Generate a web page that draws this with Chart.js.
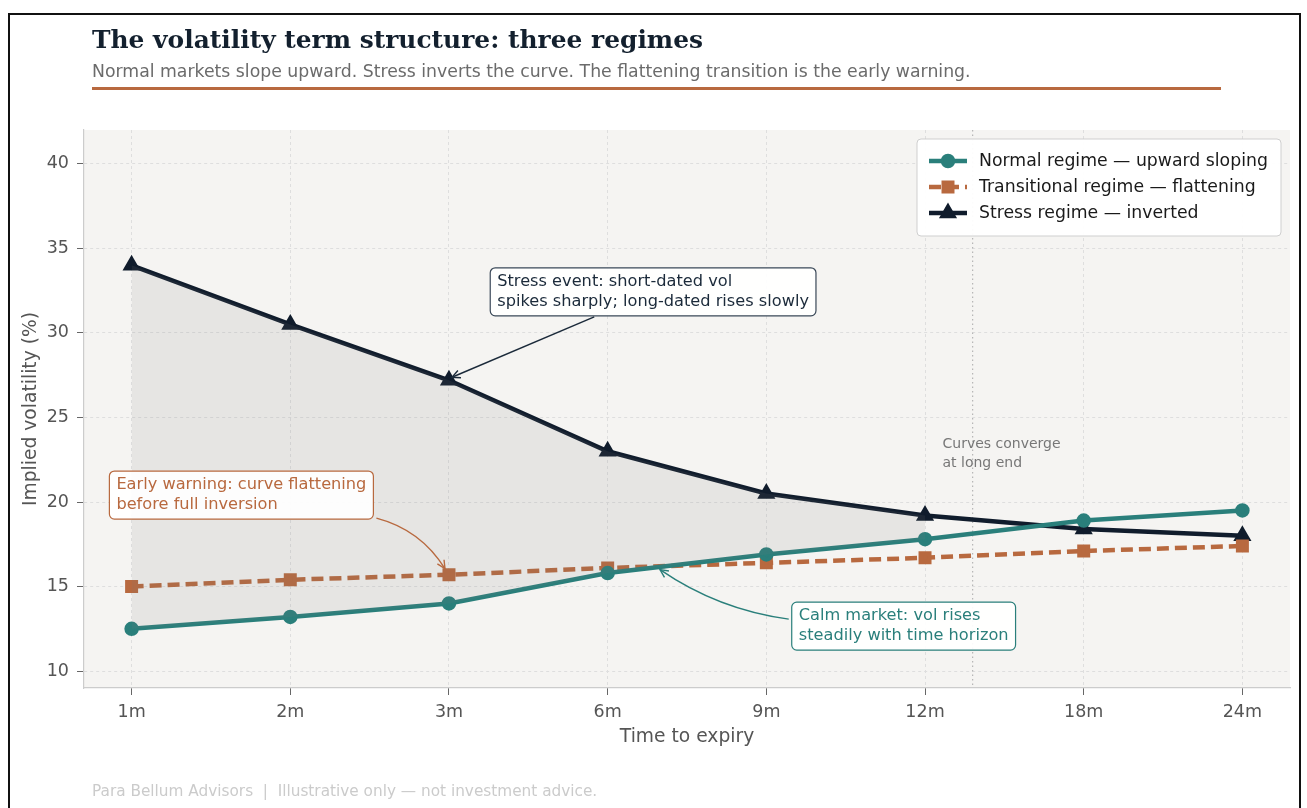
<!DOCTYPE html>
<html>
<head>
<meta charset="utf-8">
<script src="https://cdn.jsdelivr.net/npm/chart.js@4.4.1/dist/chart.umd.min.js"></script>
<style>
  body { margin: 0; width: 1307px; height: 808px; background: #fff; overflow: hidden; position: relative; font-family: "DejaVu Sans", sans-serif; }
  .frame { position: absolute; left: 8px; top: 13px; width: 1293px; height: 820px; border: 2px solid #111; box-sizing: border-box; }
  #chart { position: absolute; left: 0; top: 0; }
  .title { position: absolute; left: 92px; top: 24px; font: bold 24.9px "DejaVu Serif", serif; color: #13202e; line-height: 32px; white-space: nowrap; }
  .sub { position: absolute; left: 92px; top: 61px; font-size: 17.3px; color: #6b6b6b; line-height: 20px; white-space: nowrap; }
  .rule { position: absolute; left: 92px; top: 87px; width: 1129px; height: 3px; background: #b8693f; }
  .foot { position: absolute; left: 92px; top: 782px; font-size: 15.3px; color: #cbcbcb; line-height: 18px; white-space: nowrap; }
</style>
</head>
<body>
<div class="frame"></div>
<canvas id="chart" width="1307" height="808"></canvas>
<div class="title">The volatility term structure: three regimes</div>
<div class="sub">Normal markets slope upward. Stress inverts the curve. The flattening transition is the early warning.</div>
<div class="rule"></div>
<div class="foot">Para Bellum Advisors &nbsp;|&nbsp; Illustrative only — not investment advice.</div>
<script>
// tenors and implied vols
const terms = ['1m', '2m', '3m', '6m', '9m', '12m', '18m', '24m'];
const normalVol = [12.5, 13.2, 14.0, 15.8, 16.9, 17.8, 18.9, 19.5];
const transVol = [15.0, 15.4, 15.7, 16.1, 16.4, 16.7, 17.1, 17.4];
const stressVol = [34.0, 30.5, 27.2, 23.0, 20.5, 19.2, 18.4, 18.0];
const yTicks = [10, 15, 20, 25, 30, 35, 40];
const fillEnd = 5; // shading stops at 12m
const convergeX = 5.3;

const teal = '#2a7f7b';
const orange = '#b8693f';
const navy = '#101c2c';
const FONT = '"DejaVu Sans", sans-serif';

const pts = arr => arr.map((v, i) => ({ x: i, y: v }));

const datasets = [
  { label: '_fillLow', data: pts(normalVol.slice(0, fillEnd + 1)), borderWidth: 0, pointRadius: 0, borderColor: 'transparent', fill: false },
  { label: '_fillHigh', data: pts(stressVol.slice(0, fillEnd + 1)), borderWidth: 0, pointRadius: 0, borderColor: 'transparent', fill: { target: 0 }, backgroundColor: 'rgba(120,120,120,0.12)' },
  { label: 'Normal regime — upward sloping', data: pts(normalVol), borderColor: teal, backgroundColor: teal, borderWidth: 4.5, pointStyle: 'circle', pointRadius: 5, fill: false },
  { label: 'Transitional regime — flattening', data: pts(transVol), borderColor: orange, backgroundColor: orange, borderWidth: 4.5, borderDash: [12, 6], pointStyle: 'rect', pointRadius: 6, fill: false },
  { label: 'Stress regime — inverted', data: pts(stressVol), borderColor: navy, backgroundColor: navy, borderWidth: 4.5, pointStyle: 'triangle', pointRadius: 6, fill: false }
];

function arrowHead(ctx, fx, fy, tx, ty) {
  const a = Math.atan2(ty - fy, tx - fx);
  const s = 9, w = 0.45;
  ctx.beginPath();
  ctx.moveTo(tx - s * Math.cos(a - w), ty - s * Math.sin(a - w));
  ctx.lineTo(tx, ty);
  ctx.lineTo(tx - s * Math.cos(a + w), ty - s * Math.sin(a + w));
  ctx.stroke();
}

function arrow(ctx, x1, y1, x2, y2, rad, color) {
  const mx = (x1 + x2) / 2, my = (y1 + y2) / 2;
  const cx = mx + rad * (y2 - y1), cy = my - rad * (x2 - x1);
  ctx.save();
  ctx.strokeStyle = color;
  ctx.lineWidth = 1.4;
  ctx.beginPath();
  ctx.moveTo(x1, y1);
  ctx.quadraticCurveTo(cx, cy, x2, y2);
  ctx.stroke();
  arrowHead(ctx, cx, cy, x2, y2);
  ctx.restore();
}

function noteBox(ctx, left, top, lines, color, border) {
  ctx.save();
  ctx.font = '16.2px ' + FONT;
  const w = Math.max(...lines.map(l => ctx.measureText(l).width)) + 14;
  const h = lines.length * 20 + 8;
  ctx.beginPath();
  ctx.roundRect(left, top, w, h, 5);
  ctx.fillStyle = 'rgba(255,255,255,0.92)';
  ctx.fill();
  ctx.strokeStyle = border;
  ctx.lineWidth = 1.2;
  ctx.stroke();
  ctx.fillStyle = color;
  ctx.textBaseline = 'middle';
  lines.forEach((l, i) => ctx.fillText(l, left + 7, top + 14 + i * 20));
  ctx.restore();
  return { left, top, right: left + w, bottom: top + h };
}

const overlay = {
  id: 'overlay',
  beforeDraw(chart) {
    const { ctx, chartArea: a } = chart;
    ctx.save();
    ctx.fillStyle = '#f5f4f2';
    ctx.fillRect(a.left, a.top, a.right - a.left, a.bottom - a.top);
    ctx.restore();
  },
  beforeDatasetsDraw(chart) {
    const { ctx, chartArea: a, scales: { x } } = chart;
    const px = x.getPixelForValue(convergeX);
    ctx.save();
    ctx.strokeStyle = '#b5b5b5';
    ctx.lineWidth = 1.2;
    ctx.setLineDash([1.5, 3]);
    ctx.beginPath();
    ctx.moveTo(px, a.top);
    ctx.lineTo(px, a.bottom);
    ctx.stroke();
    ctx.restore();
  },
  afterDatasetsDraw(chart) {
    const { ctx, scales: { x, y } } = chart;
    const X = v => x.getPixelForValue(v), Y = v => y.getPixelForValue(v);

    // stress note
    const b1 = noteBox(ctx, X(2.26), Y(33.85), ['Stress event: short-dated vol', 'spikes sharply; long-dated rises slowly'], '#1b2a3a', '#3a4858');
    arrow(ctx, b1.left + 104, b1.bottom + 1, X(2) + 3, Y(stressVol[2]) - 3, 0, '#1b2a3a');

    // early warning note
    const b2 = noteBox(ctx, X(-0.14), Y(21.83), ['Early warning: curve flattening', 'before full inversion'], orange, orange);
    arrow(ctx, b2.right + 3, b2.bottom - 1, X(2) - 4, Y(transVol[2]) - 6, 0.2, orange);

    // calm note
    const b3 = noteBox(ctx, X(4.16), Y(14.08), ['Calm market: vol rises', 'steadily with time horizon'], teal, teal);
    arrow(ctx, b3.left - 3, b3.top + 17, X(3.33), Y(16.0), 0.12, teal);

    // converge text
    ctx.save();
    ctx.font = '14px ' + FONT;
    ctx.fillStyle = '#777';
    ctx.textBaseline = 'middle';
    ctx.fillText('Curves converge', X(5.11), Y(23.43));
    ctx.fillText('at long end', X(5.11), Y(23.43) + 19);
    ctx.restore();

    // legend
    const L = 917, T = 139, W = 364, H = 97;
    ctx.save();
    ctx.beginPath();
    ctx.roundRect(L, T, W, H, 4);
    ctx.fillStyle = 'rgba(255,255,255,0.95)';
    ctx.fill();
    ctx.strokeStyle = '#cfcfcf';
    ctx.lineWidth = 1;
    ctx.stroke();
    ctx.font = '17.3px ' + FONT;
    ctx.textBaseline = 'middle';
    chart.data.datasets.slice(2).forEach((ds, i) => {
      const cy = T + 22 + i * 26;
      ctx.strokeStyle = ds.borderColor;
      ctx.lineWidth = 4.5;
      ctx.setLineDash(ds.borderDash || []);
      ctx.beginPath();
      ctx.moveTo(L + 12, cy);
      ctx.lineTo(L + 50, cy);
      ctx.stroke();
      ctx.setLineDash([]);
      Chart.helpers.drawPoint(ctx, { pointStyle: ds.pointStyle, radius: ds.pointRadius, rotation: 0, borderWidth: 1 }, L + 31, cy);
      ctx.fillStyle = ds.borderColor;
      ctx.fill();
      ctx.fillStyle = '#1a1a1a';
      ctx.fillText(ds.label, L + 62, cy + 1);
    });
    ctx.restore();
  }
};

new Chart(document.getElementById('chart'), {
  type: 'line',
  data: { datasets },
  plugins: [overlay],
  options: {
    responsive: false,
    animation: false,
    layout: { padding: { left: 20, top: 130, right: 17, bottom: 60 } },
    plugins: { legend: { display: false }, tooltip: { enabled: false } },
    scales: {
      x: {
        type: 'linear', min: -0.3, max: 7.3,
        afterBuildTicks: s => { s.ticks = terms.map((t, i) => ({ value: i })); },
        afterFit: s => { s.height = 60; },
        ticks: { callback: v => terms[v], font: { family: FONT, size: 17.5 }, color: '#555', padding: 7, maxRotation: 0 },
        grid: { color: '#dedede', lineWidth: 1, tickLength: 7, tickColor: '#666' },
        border: { color: '#cccccc', width: 1.2, dash: [3, 3] },
        title: { display: true, text: 'Time to expiry', font: { family: FONT, size: 18.7 }, color: '#555', padding: 0 }
      },
      y: {
        type: 'linear', min: 9, max: 42,
        afterBuildTicks: s => { s.ticks = yTicks.map(v => ({ value: v })); },
        afterFit: s => { s.width = 64; },
        ticks: { font: { family: FONT, size: 17.5 }, color: '#555', padding: 8 },
        grid: { color: '#dedede', lineWidth: 1, tickLength: 7, tickColor: '#666' },
        border: { color: '#cccccc', width: 1.2, dash: [3, 3] },
        title: { display: true, text: 'Implied volatility (%)', font: { family: FONT, size: 18.7 }, color: '#555', padding: 0 }
      }
    }
  }
});
</script>
</body>
</html>
